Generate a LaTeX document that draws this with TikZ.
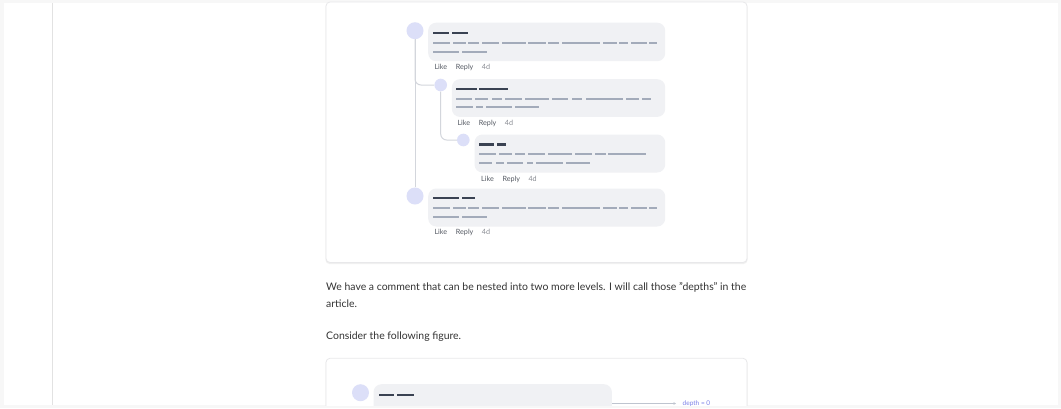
\documentclass[tikz,border=0pt]{standalone}
\usepackage{fontspec}
\setmainfont{Lato}
\usetikzlibrary{arrows.meta}
\definecolor{pagebg}{HTML}{F7F7F7}
\definecolor{rulegrey}{HTML}{E2E2E2}
\definecolor{cardedge}{HTML}{E8E8EA}
\definecolor{avatarfill}{HTML}{DCDFF8}
\definecolor{bubblefill}{HTML}{F0F1F4}
\definecolor{authorc}{HTML}{3A4252}
\definecolor{bodyc}{HTML}{A3ABBA}
\definecolor{threadc}{HTML}{D3D6DC}
\definecolor{textc}{HTML}{333333}
\definecolor{metac}{HTML}{555A63}
\definecolor{depthc}{HTML}{7B80E8}
\tikzset{
  card/.style={draw=cardedge, fill=white, rounded corners=4pt, line width=0.8pt},
  avatar/.style={circle, fill=avatarfill, inner sep=0pt},
  bubble/.style={rectangle, fill=bubblefill, rounded corners=8pt, inner sep=0pt, anchor=north west},
  authorln/.style={draw=authorc, line width=2.1pt},
  bodyln/.style={draw=bodyc, line width=1.7pt},
  thread/.style={draw=threadc, line width=1pt},
  meta/.style={font=\fontsize{7.2}{8}\selectfont, text=metac, anchor=west, inner sep=0pt},
  metad/.style={meta, text=metac!70},
  para/.style={font=\fontsize{10.45}{13}\selectfont, text=textc, anchor=base west, inner sep=0pt},
}
\newcommand\dashrow[3]{\foreach \a/\b in {#3} {\draw[#1] (\a,#2) -- (\b,#2);}}
\begin{document}
\begin{tikzpicture}[x=1pt,y=-1pt]
\useasboundingbox (0,0) rectangle (1061,408);
\fill[pagebg] (0,0) rectangle (1061,408);
\fill[white] (4,3) rectangle (1058,405);
\draw[rulegrey, line width=1pt] (52,3) -- (52,405);
% card 1
\fill[black!6, rounded corners=4pt] (325.5,3) rectangle (747.5,264);
\draw[card] (326,2) rectangle (747,262.5);
% comment 1
\node[avatar, minimum size=17pt] (a1) at (415,30.7) {};
\node[bubble, minimum width=237pt, minimum height=38.5pt] (b1) at (428,22.5) {};
\dashrow{authorln}{32.7}{433/449,452/468}
\dashrow{bodyln}{43.3}{433/450,453/466,468/479,482/499,502/526,528/546,548/559,562/600,603/617,619/628,631/647,649/657}
\dashrow{bodyln}{51.7}{433/459,462/487}
\node[meta] (l1) at (434.3,67.3) {Like};
\node[meta] (r1) at (455.7,67.3) {Reply};
\node[metad] (d1) at (481.7,67.3) {4d};
% comment 2
\node[avatar, minimum size=12.6pt] (a2) at (440.7,85) {};
\node[bubble, minimum width=213.3pt, minimum height=37.7pt] (b2) at (451.7,79) {};
\dashrow{authorln}{88.7}{456/477,479/508}
\dashrow{bodyln}{99}{456/472,475/488,492/502,505/522,525/549,552/568,572/582,586/623,626/639,642/651}
\dashrow{bodyln}{107.3}{456/473,476/483,486/512,515/539}
\node[meta] (l2) at (457.3,123.3) {Like};
\node[meta] (r2) at (478.7,123.3) {Reply};
\node[metad] (d2) at (504.7,123.3) {4d};
% comment 3
\node[avatar, minimum size=12.6pt] (a3) at (463.3,140) {};
\node[bubble, minimum width=190.7pt, minimum height=38pt] (b3) at (474.3,134.3) {};
\dashrow{authorln}{144.5}{479/494,497/506}
\dashrow{bodyln}{154.3}{479/496,499/512,515/525,528/545,548/572,575/592,595/606,608/646}
\dashrow{bodyln}{162.7}{479/492,496/504,507/523,527/533,536/563,566/590}
\node[meta] (l3) at (481,179) {Like};
\node[meta] (r3) at (502.3,179) {Reply};
\node[metad] (d3) at (528.3,179) {4d};
% comment 4
\node[avatar, minimum size=17pt] (a4) at (415,196) {};
\node[bubble, minimum width=237pt, minimum height=38pt] (b4) at (428,188.3) {};
\dashrow{authorln}{198}{433/459,462/475}
\dashrow{bodyln}{208.3}{433/450,453/466,468/479,482/499,502/526,528/546,548/559,562/600,603/617,619/628,631/647,649/657}
\dashrow{bodyln}{216.7}{433/459,462/487}
\node[meta] (l4) at (434.3,232.3) {Like};
\node[meta] (r4) at (455.7,232.3) {Reply};
\node[metad] (d4) at (481.7,232.3) {4d};
% threads
\draw[thread] (a1.south) -- (a4.north);
\draw[thread, rounded corners=6pt] (a1.south) |- (a2.west);
\draw[thread, rounded corners=6pt] (a2.south) |- (a3.west);
% paragraph
\node[para] (p1) at (326,290) {We have a comment that can be nested into two more levels. I will call those \char"22 depths\char"22{} in the};
\node[para] (p2) at (326,307) {article.};
\node[para] (p3) at (326,339) {Consider the following figure.};
% card 2
\begin{scope}
\clip (0,0) rectangle (1061,405);
\fill[black!6, rounded corners=4pt] (325.5,359) rectangle (747.5,420);
\draw[card] (326,358.3) rectangle (747,420);
\node[avatar, minimum size=17pt] (a5) at (360.5,392.7) {};
\node[bubble, minimum width=238.4pt, minimum height=40pt] (b5) at (373.3,384) {};
\dashrow{authorln}{395}{379/394,397/414}
\coordinate (dp) at (676,403.5);
\draw[bodyc!70, line width=0.7pt, -{Stealth[length=2.5pt,width=2.5pt]}] (b5.east |- dp) -- (dp);
\node[font=\fontsize{6.5}{7}\selectfont, text=depthc, anchor=west, inner sep=0pt] (dl) at (682.5,403.5) {depth = 0};
\end{scope}
\end{tikzpicture}
\end{document}
